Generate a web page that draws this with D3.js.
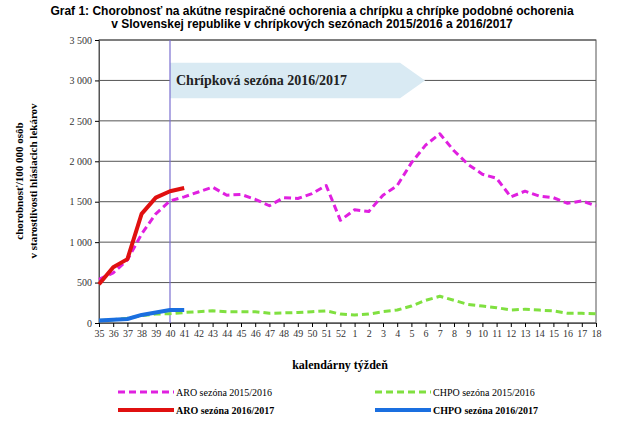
<!DOCTYPE html><html><head><meta charset="utf-8"><script src="https://d3js.org/d3.v7.min.js"></script>
<style>body{margin:0;background:#fff}</style></head><body><svg id="c" width="625" height="424"></svg>
<script>
const weeks=[35,36,37,38,39,40,41,42,43,44,45,46,47,48,49,50,51,52,1,2,3,4,5,6,7,8,9,10,11,12,13,14,15,16,17,18];
const aro1516=[540,620,780,1100,1350,1510,1560,1620,1680,1580,1590,1530,1450,1550,1540,1600,1700,1270,1400,1380,1580,1700,1980,2200,2340,2130,1960,1840,1790,1560,1630,1570,1550,1480,1510,1450];
const chpo1516=[30,40,60,90,110,115,130,140,150,140,140,140,120,125,130,140,150,110,100,110,140,160,210,280,330,280,230,210,190,160,170,160,150,120,120,115];
const aro1617=[480,690,790,1350,1550,1630,1670];
const chpo1617=[30,40,50,100,130,160,160];
const yTicks=[0,500,1000,1500,2000,2500,3000,3500];
const svg=d3.select("#c");
const L=99,R=596,T=40,B=323;
const x=d3.scalePoint().domain(d3.range(weeks.length)).range([L,R]);
const y=d3.scaleLinear().domain([0,3500]).range([B,T]);
const fmt=v=>v>=1000?Math.floor(v/1000)+" "+String(v%1000).padStart(3,"0"):String(v);
svg.append("text").attr("x",312).attr("y",15).attr("text-anchor","middle").attr("font-family","Liberation Sans").attr("font-weight","bold").attr("font-size",12).text("Graf 1: Chorobnosť na akútne respiračné ochorenia a chrípku a chrípke podobné ochorenia");
svg.append("text").attr("x",312).attr("y",28).attr("text-anchor","middle").attr("font-family","Liberation Sans").attr("font-weight","bold").attr("font-size",12).text("v Slovenskej republike v chrípkových sezónach 2015/2016 a 2016/2017");
// grid
svg.append("g").selectAll("line").data(yTicks).join("line").attr("x1",L).attr("x2",R).attr("y1",d=>y(d)).attr("y2",d=>y(d)).attr("stroke","#555").attr("stroke-width",1);
svg.append("rect").attr("x",L).attr("y",T).attr("width",R-L).attr("height",B-T).attr("fill","none").attr("stroke","#555");
// banner
svg.append("path").attr("d",`M170,${y(3220)} L400,${y(3220)} L425,${y(3000)} L400,${y(2780)} L170,${y(2780)} Z`).attr("fill","#d9eaf3");
svg.append("text").attr("x",176).attr("y",y(3000)+5).attr("font-family","Liberation Serif").attr("font-weight","bold").attr("font-size",14).attr("fill","#222").text("Chrípková sezóna 2016/2017");
// vline
svg.append("line").attr("x1",x(5)).attr("x2",x(5)).attr("y1",T).attr("y2",B).attr("stroke","#7b6fd0").attr("stroke-width",1.2);
// axes
const ya=svg.append("g").attr("transform",`translate(${L},0)`).call(d3.axisLeft(y).tickValues(yTicks).tickFormat(fmt).tickSize(4));
ya.select(".domain").attr("stroke","#555");ya.selectAll("text").attr("font-family","Liberation Serif").attr("font-size",10).attr("fill","#333");
const xa=svg.append("g").attr("transform",`translate(0,${B})`).call(d3.axisBottom(x).tickFormat(i=>weeks[i]).tickSize(4));
xa.select(".domain").attr("stroke","#555");xa.selectAll("text").attr("font-family","Liberation Serif").attr("font-size",10).attr("fill","#333");
svg.append("text").attr("transform","translate(23,181) rotate(-90)").attr("text-anchor","middle").attr("font-family","Liberation Serif").attr("font-weight","bold").attr("font-size",11).text("chorobnosť/100 000 osôb");
svg.append("text").attr("transform","translate(37,181) rotate(-90)").attr("text-anchor","middle").attr("font-family","Liberation Serif").attr("font-weight","bold").attr("font-size",11).text("v starostlivosti hlásiacich lekárov");
svg.append("text").attr("x",340).attr("y",369).attr("text-anchor","middle").attr("font-family","Liberation Serif").attr("font-weight","bold").attr("font-size",12).text("kalendárny týždeň");
const line=d3.line().x((d,i)=>x(i)).y(d=>y(d));
const series=[
 {d:aro1516,c:"#e020e0",dash:"7,4",w:3,n:"ARO sezóna 2015/2016",lx:118,ly:392},
 {d:chpo1516,c:"#80e040",dash:"7,4",w:3,n:"CHPO sezóna 2015/2016",lx:375,ly:392},
 {d:aro1617,c:"#e01010",dash:null,w:4,n:"ARO sezóna 2016/2017",lx:118,ly:410},
 {d:chpo1617,c:"#1a6fe0",dash:null,w:4,n:"CHPO sezóna 2016/2017",lx:375,ly:410}];
series.forEach(s=>{
 svg.append("path").datum(s.d).attr("d",line).attr("fill","none").attr("stroke",s.c).attr("stroke-width",s.w).attr("stroke-dasharray",s.dash).attr("stroke-linejoin","round");
 svg.append("line").attr("x1",s.lx).attr("x2",s.lx+56).attr("y1",s.ly).attr("y2",s.ly).attr("stroke",s.c).attr("stroke-width",s.w).attr("stroke-dasharray",s.dash);
 svg.append("text").attr("x",s.lx+58).attr("y",s.ly+3.5).attr("font-family","Liberation Serif").attr("font-size",10).attr("font-weight",s.dash?"normal":"bold").text(s.n);
});
</script></body></html>
